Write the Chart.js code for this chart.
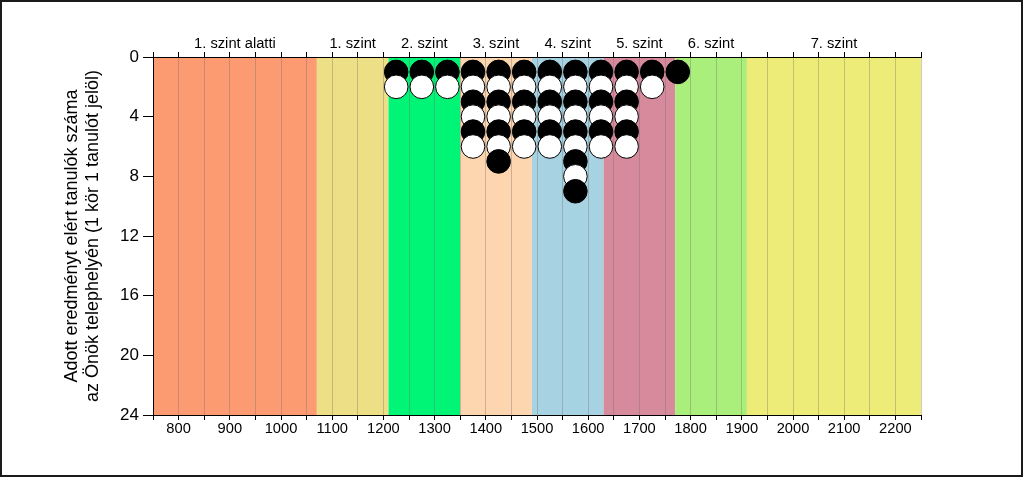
<!DOCTYPE html>
<html>
<head>
<meta charset="utf-8">
<script src="https://cdn.jsdelivr.net/npm/chart.js@4.4.1/dist/chart.umd.min.js"></script>
<style>
  html, body { margin: 0; padding: 0; background: #fff; }
  #wrap { width: 1024px; height: 478px; }
</style>
</head>
<body>
<div id="wrap"><canvas id="dotChart" width="1024" height="478"></canvas></div>
<script>
const CHART = document.getElementById("dotChart");

// score bins (bin centres) and number of students in each
const binCenters = [1225, 1275, 1325, 1375, 1425, 1475, 1525, 1575, 1625, 1675, 1725, 1775];
const counts = [2, 2, 2, 6, 7, 6, 6, 9, 6, 6, 2, 1];

const bandNames = ["1. szint alatti", "1. szint", "2. szint", "3. szint", "4. szint", "5. szint", "6. szint", "7. szint"];
const bandEdges = [750, 1070, 1210, 1350, 1490, 1630, 1770, 1910, 2250];
const bandColors = ["#fc9a72", "#ecdf86", "#00f576", "#fdd5ae", "#a7d2e2", "#d78a9c", "#aaee7b", "#eeec78"];

const yTitle = ["Adott eredményt elért tanulók száma", "az Önök telephelyén (1 kör 1 tanulót jelöl)"];

const FONT = "'Liberation Sans', Arial, sans-serif";

let dots = [];
binCenters.forEach(function(c, i) {
	for (let k = 1; k <= counts[i]; k++) {
		dots.push({x: c, y: k});
	}
});

const bandPlugin = {
	id: 'bands',
	beforeDraw: function(chart) {
		const ctx = chart.ctx;
		const x = chart.scales.x;
		const area = chart.chartArea;
		ctx.save();
		for (let i = 0; i < bandNames.length; i++) {
			const x0 = x.getPixelForValue(bandEdges[i]);
			const x1 = x.getPixelForValue(bandEdges[i + 1]);
			ctx.fillStyle = bandColors[i];
			ctx.fillRect(x0, area.top, x1 - x0, area.bottom - area.top);
		}
		ctx.restore();
	},
	afterDraw: function(chart) {
		const ctx = chart.ctx;
		const x = chart.scales.x;
		ctx.save();
		ctx.fillStyle = "#000";
		ctx.font = "14.7px " + FONT;
		ctx.textAlign = "center";
		ctx.textBaseline = "alphabetic";
		for (let i = 0; i < bandNames.length; i++) {
			const mid = (x.getPixelForValue(bandEdges[i]) + x.getPixelForValue(bandEdges[i + 1])) / 2;
			ctx.fillText(bandNames[i], mid, 48);
		}
		// outer frame
		ctx.strokeStyle = "#1a1a1a";
		ctx.lineWidth = 2;
		ctx.strokeRect(1, 1, chart.width - 3, chart.height - 3);
		ctx.restore();
	}
};

let dotChart = new Chart(CHART, {
	type: 'scatter',
	data: {
		datasets: [
			{
				data: dots,
				pointRadius: 11.8,
				pointHoverRadius: 11.8,
				borderWidth: 1,
				borderColor: "#000",
				backgroundColor: function(c) {
					return (c.raw && c.raw.y % 2 === 1) ? "#000" : "#fff";
				}
			}
		]
	},
	options: {
		responsive: false,
		animation: false,
		events: [],
		layout: {padding: {left: 0, right: 103, top: 0, bottom: 0}},
		plugins: {
			legend: {display: false},
			tooltip: {enabled: false}
		},
		scales: {
			x: {
				type: 'linear',
				position: 'bottom',
				min: 750,
				max: 2250,
				afterFit: function(s) { s.height = 63; },
				afterBuildTicks: function(s) {
					s.ticks = [];
					for (let v = 750; v <= 2250; v += 50) s.ticks.push({value: v});
				},
				ticks: {
					autoSkip: false,
					maxRotation: 0,
					padding: 0,
					color: "#000",
					font: {family: FONT, size: 14.7},
					callback: function(v) { return v % 100 === 0 ? String(v) : ''; }
				},
				grid: {
					color: "rgba(110,110,110,0.35)",
					tickColor: "#000",
					tickLength: 5,
					lineWidth: 1
				},
				border: {display: true, color: "#000", width: 1}
			},
			x2: {
				type: 'linear',
				position: 'top',
				display: true,
				min: 750,
				max: 2250,
				afterFit: function(s) { s.height = 57; },
				afterBuildTicks: function(s) {
					s.ticks = [];
					for (let v = 750; v <= 2250; v += 50) s.ticks.push({value: v});
				},
				ticks: {display: false},
				grid: {
					drawOnChartArea: false,
					color: "#000",
					tickLength: 5
				},
				border: {display: true, color: "#000", width: 1}
			},
			y: {
				type: 'linear',
				reverse: true,
				min: 0,
				max: 24,
				afterFit: function(s) { s.width = 153; },
				ticks: {
					stepSize: 4,
					padding: 4,
					color: "#000",
					font: {family: FONT, size: 17}
				},
				grid: {
					drawOnChartArea: false,
					color: "#000",
					tickLength: 10
				},
				border: {display: true, color: "#000", width: 1},
				title: {
					display: true,
					text: yTitle,
					color: "#000",
					font: {family: FONT, size: 18, lineHeight: 1.15},
					padding: {top: 62, bottom: 0}
				}
			}
		}
	},
	plugins: [bandPlugin]
});
</script>
</body>
</html>
